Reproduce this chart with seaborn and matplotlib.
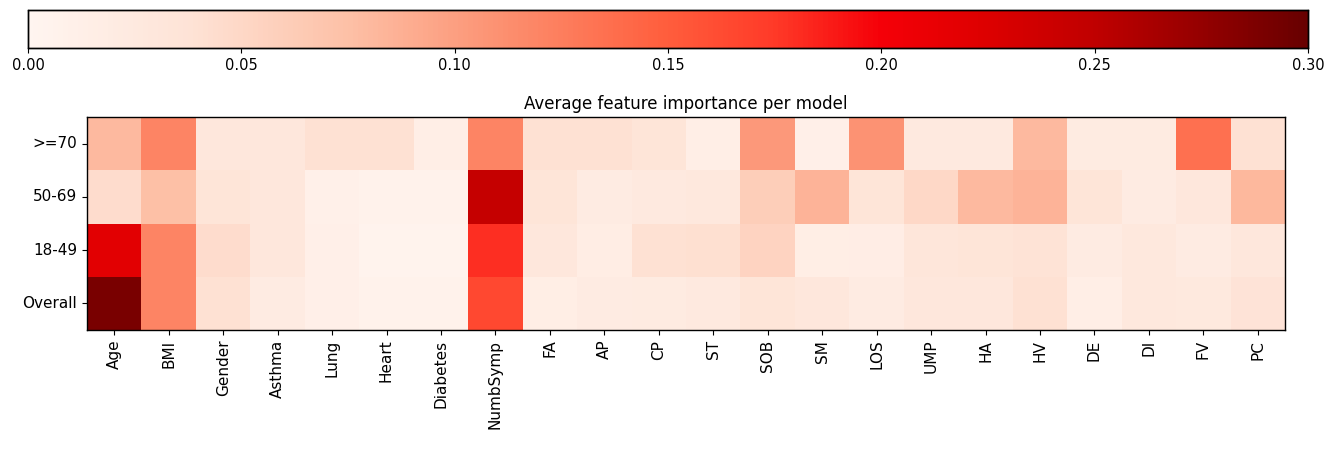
import numpy as np
import pandas as pd
import matplotlib
matplotlib.use('Agg')
import matplotlib.pyplot as plt
from matplotlib.colors import LinearSegmentedColormap
import seaborn as sns

features = ['Age', 'BMI', 'Gender', 'Asthma', 'Lung', 'Heart', 'Diabetes', 'NumbSymp',
            'FA', 'AP', 'CP', 'ST', 'SOB', 'SM', 'LOS', 'UMP', 'HA', 'HV', 'DE', 'DI', 'FV', 'PC']
models = ['>=70', '50-69', '18-49', 'Overall']

imp_70 = [0.080, 0.120, 0.030, 0.030, 0.040, 0.040, 0.015, 0.120,
          0.040, 0.040, 0.035, 0.015, 0.105, 0.012, 0.110, 0.025, 0.025, 0.080, 0.022, 0.022, 0.135, 0.040]
imp_50 = [0.045, 0.075, 0.035, 0.030, 0.010, 0.008, 0.008, 0.245,
          0.035, 0.020, 0.025, 0.028, 0.060, 0.085, 0.035, 0.050, 0.080, 0.085, 0.035, 0.020, 0.030, 0.082]
imp_18 = [0.220, 0.120, 0.045, 0.030, 0.012, 0.005, 0.005, 0.180,
          0.030, 0.018, 0.040, 0.042, 0.055, 0.016, 0.017, 0.032, 0.035, 0.038, 0.020, 0.028, 0.020, 0.030]
imp_all = [0.290, 0.120, 0.040, 0.020, 0.012, 0.008, 0.008, 0.165,
           0.016, 0.020, 0.022, 0.025, 0.035, 0.030, 0.020, 0.030, 0.030, 0.040, 0.015, 0.028, 0.026, 0.037]

df = pd.DataFrame([imp_70, imp_50, imp_18, imp_all], index=models, columns=features)

# colours sampled from the reference colour bar
reds = LinearSegmentedColormap.from_list('reds_ref', [
    (0.0, '#fff5f0'), (0.125, '#fee3d6'), (0.25, '#fdc0a6'), (0.375, '#fc8e6e'),
    (0.5, '#ff5d3c'), (0.583, '#ff3a28'), (0.667, '#f50008'), (0.75, '#dd0000'),
    (0.833, '#c00000'), (0.917, '#950000'), (1.0, '#680000')])

fig = plt.figure(figsize=(13.42, 4.49), dpi=100)
cax = fig.add_axes([28 / 1342, 1 - 48 / 449, 1280 / 1342, 38 / 449])
ax = fig.add_axes([87 / 1342, 1 - 330 / 449, 1198 / 1342, 213 / 449])

sns.heatmap(df, ax=ax, cmap=reds, vmin=0, vmax=0.3, cbar_ax=cax,
            cbar_kws={'orientation': 'horizontal', 'ticks': [0, 0.05, 0.1, 0.15, 0.2, 0.25, 0.3],
                      'format': '%.2f'})

for s in ax.spines.values():
    s.set_visible(True)
    s.set_linewidth(1.0)
for s in cax.spines.values():
    s.set_visible(True)
    s.set_linewidth(1.0)

ax.set_title('Average feature importance per model', fontsize=12)
ax.tick_params(axis='x', labelrotation=90, labelsize=11)
ax.tick_params(axis='y', labelrotation=0, labelsize=11)
cax.tick_params(labelsize=10.5)

fig.savefig('out.png', dpi=100)
